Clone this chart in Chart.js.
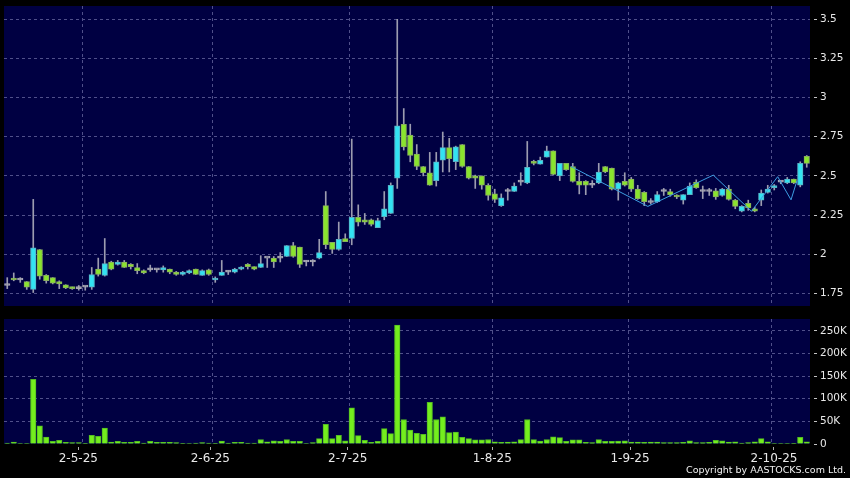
<!DOCTYPE html>
<html>
<head>
<meta charset="utf-8">
<script src="https://cdn.jsdelivr.net/npm/chart.js@4.4.1/dist/chart.umd.min.js"></script>
<style>
html,body{margin:0;padding:0;background:#000;width:850px;height:478px;overflow:hidden;}
#wrapP{position:absolute;left:0;top:0;width:850px;height:312px;}
#wrapV{position:absolute;left:0;top:312px;width:850px;height:166px;}
#copy{position:absolute;right:4px;top:464px;color:#f2f2f2;font-family:"DejaVu Sans",sans-serif;font-size:9.5px;line-height:12px;white-space:nowrap;}
</style>
</head>
<body>
<div id="wrapP"><canvas id="priceCanvas" width="850" height="312"></canvas></div>
<div id="wrapV"><canvas id="volCanvas" width="850" height="166"></canvas></div>
<div id="copy">Copyright by AASTOCKS.com Ltd.</div>
<script>
// ---- data (one entry per trading day, oldest first) ----
const opens = [1.80,1.845,1.835,1.825,1.775,2.03,1.865,1.85,1.825,1.805,
1.79,1.78,1.79,1.79,1.905,1.865,1.95,1.935,1.95,1.935,
1.915,1.895,1.90,1.90,1.90,1.905,1.885,1.87,1.88,1.905,
1.865,1.90,1.835,1.865,1.885,1.885,1.905,1.935,1.92,1.915,
1.975,1.975,1.975,1.985,2.055,2.045,1.95,1.95,1.975,2.31,
2.075,2.03,2.10,2.10,2.235,2.22,2.22,2.17,2.24,2.26,
2.485,2.83,2.76,2.64,2.56,2.52,2.47,2.60,2.68,2.59,
2.70,2.56,2.50,2.50,2.44,2.385,2.31,2.40,2.40,2.46,
2.455,2.59,2.575,2.62,2.66,2.50,2.58,2.56,2.465,2.465,
2.44,2.455,2.56,2.55,2.415,2.465,2.48,2.415,2.395,2.33,
2.335,2.40,2.40,2.375,2.345,2.38,2.46,2.40,2.40,2.405,
2.375,2.415,2.345,2.275,2.325,2.29,2.345,2.395,2.425,2.46,
2.455,2.48,2.44,2.625];
const highs = [1.85,1.88,1.85,1.825,2.35,2.03,1.87,1.85,1.83,1.805,
1.79,1.80,1.795,1.915,1.975,2.10,1.955,1.96,1.96,1.94,
1.94,1.90,1.93,1.905,1.925,1.905,1.89,1.89,1.90,1.905,
1.90,1.905,1.855,1.96,1.895,1.91,1.92,1.94,1.92,1.99,
1.975,1.985,2.01,2.055,2.075,2.045,1.96,1.965,2.095,2.40,
2.075,2.205,2.13,2.735,2.315,2.26,2.225,2.23,2.40,2.455,
3.50,2.93,2.83,2.70,2.56,2.65,2.65,2.78,2.74,2.69,
2.70,2.56,2.505,2.50,2.45,2.415,2.385,2.42,2.455,2.52,
2.72,2.60,2.62,2.69,2.66,2.58,2.58,2.58,2.52,2.47,
2.47,2.58,2.56,2.55,2.46,2.52,2.49,2.44,2.40,2.355,
2.40,2.42,2.415,2.38,2.38,2.455,2.475,2.435,2.42,2.42,
2.42,2.44,2.35,2.31,2.345,2.30,2.41,2.44,2.445,2.47,
2.49,2.48,2.59,2.63];
const lows = [1.78,1.83,1.82,1.775,1.755,1.84,1.815,1.81,1.78,1.78,
1.775,1.77,1.77,1.775,1.86,1.86,1.90,1.93,1.915,1.905,
1.875,1.875,1.89,1.885,1.885,1.875,1.865,1.865,1.875,1.87,
1.865,1.865,1.82,1.865,1.87,1.88,1.90,1.905,1.90,1.915,
1.915,1.915,1.95,1.985,1.98,1.915,1.925,1.925,1.97,2.035,
2.005,2.025,2.08,2.06,2.18,2.19,2.18,2.17,2.22,2.26,
2.42,2.665,2.59,2.54,2.50,2.44,2.435,2.525,2.525,2.54,
2.555,2.48,2.42,2.415,2.345,2.33,2.305,2.345,2.40,2.44,
2.45,2.57,2.575,2.62,2.505,2.47,2.535,2.46,2.385,2.38,
2.425,2.45,2.52,2.41,2.345,2.435,2.40,2.35,2.31,2.32,
2.33,2.375,2.37,2.355,2.32,2.38,2.42,2.355,2.375,2.35,
2.37,2.345,2.29,2.27,2.28,2.27,2.31,2.39,2.41,2.45,
2.45,2.45,2.43,2.555];
const closes = [1.80,1.835,1.835,1.79,2.04,1.86,1.83,1.815,1.81,1.785,
1.78,1.78,1.79,1.87,1.87,1.94,1.905,1.95,1.915,1.92,
1.895,1.88,1.90,1.90,1.915,1.885,1.87,1.885,1.895,1.87,
1.895,1.87,1.845,1.885,1.885,1.905,1.915,1.92,1.905,1.94,
1.975,1.95,1.975,2.055,1.985,1.935,1.95,1.95,2.01,2.06,
2.03,2.095,2.08,2.235,2.205,2.205,2.19,2.215,2.29,2.44,
2.82,2.685,2.63,2.56,2.52,2.44,2.59,2.68,2.61,2.685,
2.56,2.485,2.485,2.44,2.375,2.35,2.36,2.40,2.435,2.46,
2.555,2.58,2.60,2.66,2.51,2.58,2.54,2.465,2.44,2.44,
2.44,2.525,2.525,2.415,2.455,2.44,2.415,2.355,2.335,2.33,
2.38,2.40,2.38,2.365,2.38,2.435,2.425,2.40,2.40,2.365,
2.415,2.35,2.305,2.305,2.295,2.275,2.39,2.415,2.43,2.46,
2.48,2.455,2.58,2.58];
const volumes = [2000,4000,1000,1000,143000,40000,15500,6000,8000,3500,
3000,3000,500,19000,17000,35000,4500,6000,3500,3500,
6000,2000,6000,3500,3500,3500,3000,500,1000,2000,
3000,2000,500,6500,2000,3500,3500,2000,2000,10000,
5000,7000,6000,10000,6000,6000,1000,3000,12000,43500,
12000,19000,7000,80000,18500,8000,3500,6000,34000,23000,
262500,54000,31000,23500,21500,92000,54000,60000,25000,26500,
15000,12000,9000,9000,10000,5000,3500,4500,5000,9500,
54000,9500,6500,10000,16000,14000,6000,9000,9000,3500,
3000,9500,6000,6000,6500,7000,4500,4500,3500,4500,
4500,3000,3000,3000,3500,7000,3000,3000,3500,8000,
7000,4500,5000,2000,3000,5000,12000,5000,1000,1000,
1000,500,15000,5000];
// month boundaries (day index where each month starts) -> vertical grid lines
const monthTicks = [12,32,53,75,96,118];
// date labels and where their tick marks sit on the day-index axis
const monthLabels = ['2-5-25','2-6-25','2-7-25','1-8-25','1-9-25','2-10-25'];
const labelTicks = [11.43,31.74,52.88,75.12,96.31,118.46];
// price and volume axis ticks
const priceTicks = [1.75,2,2.25,2.5,2.75,3,3.25,3.5];
const volumeTicks = [0,50000,100000,150000,200000,250000];
// overlay line (x in day-index units, y in price)
const lineX = [87.23,99.05,109.12,115.0,119.03,121.08,122.0];
const lineY = [2.56,2.305,2.505,2.274,2.495,2.347,2.47];

// ---- styling ----
const NAVY = '#000042';
const GRID = '#50508a';
const LABEL = '#e8e8e8';
const UP = '#33e3f2', UP_B = '#5ab0c4';
const DOWN = '#8ae42e', DOWN_B = '#88ae5e';
const DOJI = '#a8a8b4';

const bgPlugin = {
  id:'panelBg',
  beforeDraw(chart){
    const {ctx, chartArea:a} = chart;
    ctx.save();
    ctx.fillStyle = NAVY;
    ctx.fillRect(a.left, a.top, a.right - a.left, a.bottom - a.top);
    ctx.restore();
  }
};
// vertical dashed month lines, positioned through the x scale
const monthLines = {
  id:'monthLines',
  beforeDatasetsDraw(chart){
    const {ctx, chartArea:a} = chart;
    const sx = chart.scales.x;
    ctx.save();
    ctx.strokeStyle = GRID; ctx.lineWidth = 1; ctx.setLineDash([3,3]);
    monthTicks.forEach(v => {
      const px = Math.round(sx.getPixelForValue(v)) + 0.5;
      ctx.beginPath(); ctx.moveTo(px, a.top); ctx.lineTo(px, a.bottom); ctx.stroke();
    });
    ctx.restore();
  }
};
function fitY(s){ s.width = 40; s.paddingTop = 0; s.paddingBottom = 0; }
function fitX0(s){ s.height = 0; s.paddingLeft = 0; s.paddingRight = 0; }

const n = opens.length;
const idx = Array.from({length:n}, (_, i) => i);
const bodyFill = idx.map(i => closes[i] > opens[i] ? UP : (closes[i] < opens[i] ? DOWN : DOJI));
const bodyBorder = idx.map(i => closes[i] > opens[i] ? UP_B : (closes[i] < opens[i] ? DOWN_B : DOJI));

new Chart(document.getElementById('priceCanvas'), {
  type:'bar',
  data:{
    datasets:[
      {type:'line', data: lineX.map((x,k) => ({x:x, y:lineY[k]})), borderColor:'#3d9de2', borderWidth:1,
       pointRadius:0, tension:0, order:0},
      {data: idx.map(i => ({x:i+0.5, y:[opens[i], closes[i]]})), backgroundColor: bodyFill, borderColor: bodyBorder,
       borderWidth:1, borderSkipped:false, barThickness:5.5, minBarLength:2, grouped:false, order:1},
      {data: idx.map(i => ({x:i+0.5, y:[lows[i], highs[i]]})), backgroundColor:'#9c9cb0', borderWidth:0,
       barThickness:1, grouped:false, order:2}
    ]
  },
  options:{
    responsive:false, animation:false, devicePixelRatio:1,
    layout:{padding:{left:4, top:6, bottom:6, right:0}},
    plugins:{legend:{display:false}, tooltip:{enabled:false}},
    scales:{
      x:{type:'linear', min:0, max:n, offset:false,
         afterBuildTicks(s){ s.ticks = monthTicks.map(v => ({value:v})); },
         ticks:{display:false},
         grid:{display:false, offset:false},
         border:{display:false},
         afterFit:fitX0},
      y:{position:'right', min:1.669, max:3.585,
         afterBuildTicks(s){ s.ticks = priceTicks.map(v => ({value:v})); },
         ticks:{color:LABEL, font:{family:'DejaVu Sans', size:10.5}, padding:3, callback:v => String(v)},
         grid:{color:GRID, tickLength:7, tickColor:'#c4c4c4', tickBorderDash:[0,4,3,30], offset:false},
         border:{display:false, dash:[3,3]},
         afterFit:fitY}
    }
  },
  plugins:[bgPlugin, monthLines]
});

new Chart(document.getElementById('volCanvas'), {
  type:'bar',
  data:{
    datasets:[
      {data: idx.map(i => ({x:i+0.5, y:volumes[i]})), backgroundColor:'#74ee1e', borderColor:'#52bc22',
       borderWidth:1, borderSkipped:'bottom', barThickness:5.5, grouped:false}
    ]
  },
  options:{
    responsive:false, animation:false, devicePixelRatio:1,
    layout:{padding:{left:4, top:7, bottom:8, right:0}},
    plugins:{legend:{display:false}, tooltip:{enabled:false}},
    scales:{
      x:{type:'linear', min:0, max:n, offset:false, position:'bottom',
         afterBuildTicks(s){ s.ticks = labelTicks.map(v => ({value:v})); },
         ticks:{color:LABEL, font:{family:'DejaVu Sans', size:12}, padding:2, maxRotation:0, autoSkip:false,
                callback:(v, k) => monthLabels[k]},
         grid:{drawOnChartArea:false, offset:false, tickLength:6, tickColor:'#b0b0b0', tickBorderDash:[0,3,3,30]},
         border:{display:false},
         afterFit(s){ s.height = 26; s.paddingLeft = 0; s.paddingRight = 0; }},
      y:{position:'right', min:0, max:276000,
         afterBuildTicks(s){ s.ticks = volumeTicks.map(v => ({value:v})); },
         ticks:{color:LABEL, font:{family:'DejaVu Sans', size:10.5}, padding:3,
                callback:v => v === 0 ? '0' : (v/1000) + 'K'},
         grid:{color:c => (c.tick && c.tick.value === 0) ? 'rgba(0,0,0,0)' : GRID,
               tickLength:7, tickColor:'#c4c4c4', tickBorderDash:[0,4,3,30], offset:false},
         border:{display:false, dash:[3,3]},
         afterFit:fitY}
    }
  },
  plugins:[bgPlugin, monthLines]
});
</script>
</body>
</html>
